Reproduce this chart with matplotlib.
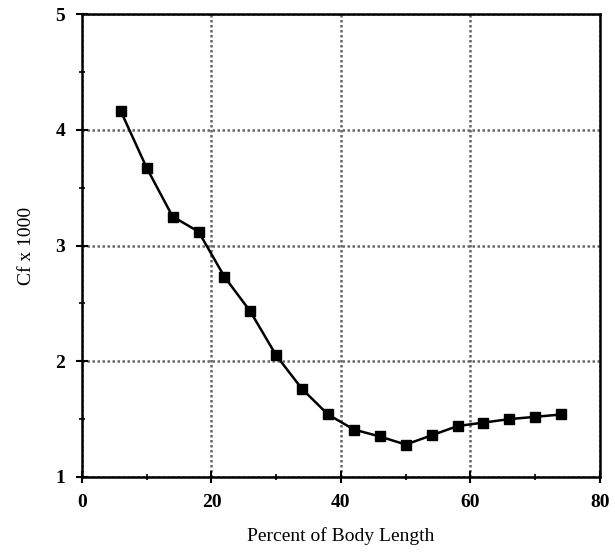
import matplotlib
matplotlib.use("Agg")
import matplotlib.pyplot as plt
from matplotlib.ticker import MultipleLocator

# Positions le long du corps (%) et coefficient de frottement
percent_body = [6, 10, 14, 18, 22, 26, 30, 34, 38, 42, 46, 50, 54, 58, 62, 66, 70, 74]
cf_x1000 = [4.16, 3.67, 3.25, 3.12, 2.73, 2.43, 2.05, 1.76, 1.54, 1.41, 1.35, 1.28,
            1.36, 1.44, 1.47, 1.50, 1.52, 1.54]

plt.rcParams['font.family'] = ['Liberation Serif', 'DejaVu Serif']

fig = plt.figure(figsize=(6.15, 5.54), dpi=100)
ax = fig.add_axes([0.1333, 0.139, 0.8423, 0.8357])

ax.plot(percent_body, cf_x1000, color='black', lw=1.8, marker='s', ms=6.5)

ax.set_xlim(0, 80)
ax.set_ylim(1, 5)
ax.xaxis.set_major_locator(MultipleLocator(20))
ax.xaxis.set_minor_locator(MultipleLocator(10))
ax.yaxis.set_major_locator(MultipleLocator(1))
ax.yaxis.set_minor_locator(MultipleLocator(0.5))
ax.grid(True, which='major', color='#666666', ls=(0, (1, 1)), lw=1.8)

ax.tick_params(which='major', direction='inout', length=8, width=1.5, labelsize=14, pad=8)
ax.tick_params(which='minor', direction='inout', length=5, width=1.2)
ax.tick_params(top=False, right=False)
for lbl in ax.get_xticklabels() + ax.get_yticklabels():
    lbl.set_fontweight('bold')
for s in ax.spines.values():
    s.set_linewidth(1.8)

ax.set_xlabel('Percent of Body Length', fontsize=14, labelpad=12)
ax.set_ylabel('Cf x 1000', fontsize=14, labelpad=15)

fig.savefig('out.png', dpi=100)
